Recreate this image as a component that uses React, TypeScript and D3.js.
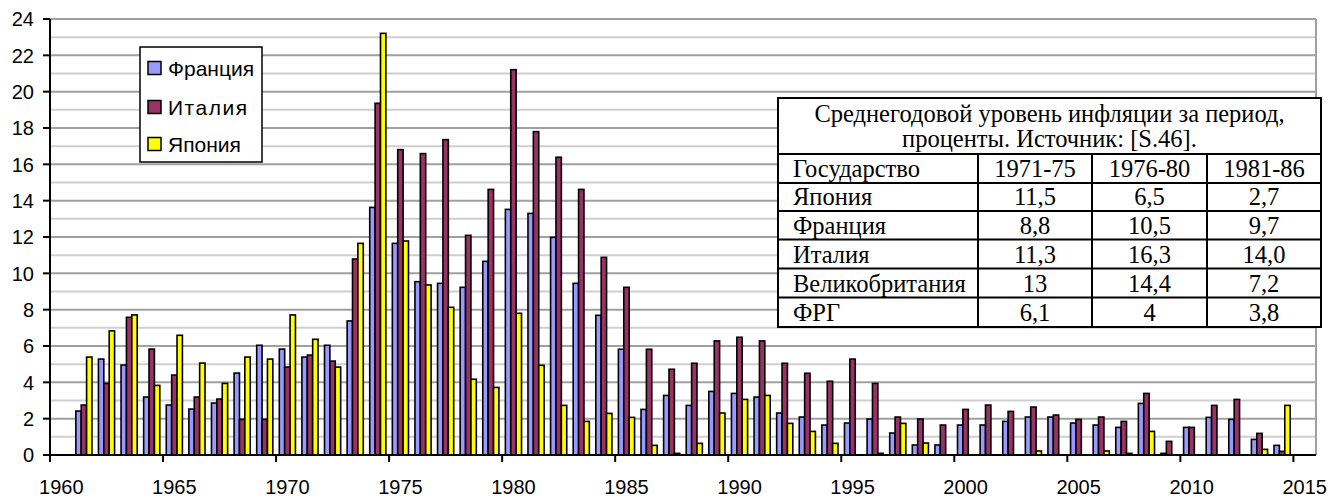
import React from "react";
import * as d3 from "d3";

const years: number[] = d3.range(1960, 2016);
const dataYears: number[] = d3.range(1961, 2015);

// Франция (1961..2014)
const france: number[] = [
  2.42, 5.28, 4.95, 3.19, 2.75, 2.53, 2.86, 4.51, 6.04, 5.83,
  5.39, 6.04, 7.38, 13.63, 11.65, 9.54, 9.45, 9.23, 10.66, 13.52,
  13.3, 11.98, 9.45, 7.69, 5.82, 2.51, 3.28, 2.73, 3.5, 3.39,
  3.19, 2.31, 2.09, 1.65, 1.76, 1.98, 1.21, 0.55, 0.55, 1.65,
  1.65, 1.85, 2.09, 2.09, 1.76, 1.65, 1.52, 2.84, 0.09, 1.52,
  2.07, 1.96, 0.86, 0.53,
];
// Италия
const italy: number[] = [
  2.75, 3.94, 7.58, 5.83, 4.4, 3.19, 3.08, 1.96, 1.96, 4.84,
  5.5, 5.17, 10.79, 19.36, 16.81, 16.59, 17.36, 12.09, 14.62, 21.21,
  17.8, 16.39, 14.62, 10.88, 9.23, 5.82, 4.72, 5.05, 6.28, 6.48,
  6.28, 5.05, 4.5, 4.06, 5.28, 3.94, 2.09, 1.98, 1.65, 2.51,
  2.75, 2.4, 2.64, 2.2, 1.96, 2.09, 1.85, 3.39, 0.75, 1.52,
  2.73, 3.06, 1.19, 0.2,
];
// Япония
const japan: number[] = [
  5.39, 6.83, 7.71, 3.83, 6.59, 5.06, 3.94, 5.39, 5.28, 7.71,
  6.37, 4.84, 11.65, 23.21, 11.78, 9.36, 8.13, 4.17, 3.72, 7.8,
  4.94, 2.73, 1.85, 2.29, 2.07, 0.53, 0.09, 0.64, 2.31, 3.06,
  3.28, 1.74, 1.3, 0.64, 0, 0.09, 1.74, 0.66, 0, 0,
  0, 0, 0.22, 0, 0, 0.22, 0.09, 1.3, 0, 0,
  0, 0, 0.31, 2.73,
];

const seriesNames: string[] = ["Франция", "Италия", "Япония"];
const seriesColors: string[] = ["#9999FF", "#993366", "#FFFF00"];
const seriesValues: number[][] = [france, italy, japan];

const yTicks: number[] = d3.range(0, 25, 2);
const yMinor: number[] = d3.range(0, 25, 1);
const xLabelYears: number[] = d3.range(1960, 2016, 5);

const tableTitle: string[] = [
  "Среднегодовой уровень инфляции за период,",
  "проценты. Источник: [S.46].",
];
const tableHeader: string[] = ["Государство", "1971-75", "1976-80", "1981-86"];
const tableCountries: string[] = ["Япония", "Франция", "Италия", "Великобритания", "ФРГ"];
const tableP1: string[] = ["11,5", "8,8", "11,3", "13", "6,1"];
const tableP2: string[] = ["6,5", "10,5", "16,3", "14,4", "4"];
const tableP3: string[] = ["2,7", "9,7", "14,0", "7,2", "3,8"];

export default function App() {
  const W = 1343, H = 499;
  const left = 50, right = 1316, top = 19, bottom = 455;
  const x = d3.scaleBand<number>().domain(years).range([left, right]).padding(0);
  const y = d3.scaleLinear().domain([0, 24]).range([bottom, top]);
  const bw = x.bandwidth();
  const barW = bw / 4.2;
  const inner = d3.scaleBand<number>().domain([0, 1, 2]).range([0, barW * 3]).padding(0);

  const axisFont = "'Liberation Sans', Arial, sans-serif";
  const serif = "'Liberation Serif', 'Times New Roman', serif";

  // table geometry
  const tL = 778, tR = 1321, tT = 98, tB = 327;
  const colX = [tL, 978, 1092, 1207, tR];
  const rowY = [154, 183, 211, 239.5, 268.5, 297.5, tB];
  const rows: string[][] = [tableHeader].concat(
    tableCountries.map((c, i) => [c, tableP1[i], tableP2[i], tableP3[i]])
  );

  return (
    <svg
      width={W}
      height={H}
      style={{ position: "absolute", left: 0, top: 0, display: "block", background: "#fff" }}
    >
      {/* gridlines */}
      {yMinor.map((v) => (
        <line
          key={"g" + v}
          x1={left}
          x2={right}
          y1={y(v)}
          y2={y(v)}
          stroke={v % 2 === 0 ? "#A0A0A0" : "#CFCFCF"}
          strokeWidth={2}
        />
      ))}
      <line x1={right} x2={right} y1={top} y2={bottom} stroke="#A0A0A0" strokeWidth={2} />

      {/* bars */}
      {seriesValues.map((vals, si) =>
        vals.map((v, i) => {
          const yr = dataYears[i];
          const gx = (x(yr) as number) + bw / 2 - (barW * 3) / 2 + (inner(si) as number);
          return (
            <rect
              key={si + "-" + yr}
              x={gx}
              y={y(v)}
              width={barW}
              height={Math.max(0, bottom - y(v))}
              fill={seriesColors[si]}
              stroke="#000"
              strokeWidth={1.6}
            />
          );
        })
      )}

      {/* axes */}
      <line x1={left} x2={left} y1={top} y2={bottom} stroke="#000" strokeWidth={2} />
      <line x1={left - 7} x2={right} y1={bottom} y2={bottom} stroke="#000" strokeWidth={2} />
      {yTicks.map((v) => (
        <g key={"yt" + v}>
          <line x1={left - 7} x2={left} y1={y(v)} y2={y(v)} stroke="#000" strokeWidth={2} />
          <text
            x={34}
            y={y(v)}
            dy="0.36em"
            textAnchor="end"
            fontFamily={axisFont}
            fontSize={20}
            fill="#000"
          >
            {v}
          </text>
        </g>
      ))}
      {xLabelYears.map((yr) => (
        <g key={"xt" + yr}>
          <line
            x1={x(yr) as number}
            x2={x(yr) as number}
            y1={bottom}
            y2={bottom + 7}
            stroke="#000"
            strokeWidth={2}
          />
          <text
            x={(x(yr) as number) + bw / 2}
            y={494}
            textAnchor="middle"
            fontFamily={axisFont}
            fontSize={20}
            fill="#000"
          >
            {yr}
          </text>
        </g>
      ))}

      {/* legend */}
      <rect x={140} y={47} width={122} height={115} fill="#fff" stroke="#000" strokeWidth={1.5} />
      {seriesNames.map((n, i) => {
        const cy = [68, 107, 144][i];
        return (
          <g key={"lg" + n}>
            <rect x={148} y={cy - 6.5} width={13} height={13} fill={seriesColors[i]} stroke="#000" strokeWidth={1.5} />
            <text
              x={168}
              y={cy}
              dy="0.36em"
              fontFamily={axisFont}
              fontSize={21}
              letterSpacing={n === "Италия" ? 1.5 : 0}
              fill="#000"
            >
              {n}
            </text>
          </g>
        );
      })}

      {/* table */}
      <rect x={tL} y={tT} width={tR - tL} height={tB - tT} fill="#fff" stroke="#000" strokeWidth={2} />
      {rowY.slice(0, -1).map((ry) => (
        <line key={"rl" + ry} x1={tL} x2={tR} y1={ry} y2={ry} stroke="#000" strokeWidth={2} />
      ))}
      {colX.slice(1, -1).map((cx) => (
        <line key={"cl" + cx} x1={cx} x2={cx} y1={rowY[0]} y2={tB} stroke="#000" strokeWidth={2} />
      ))}
      {tableTitle.map((t, i) => (
        <text
          key={"tt" + i}
          x={(tL + tR) / 2}
          y={[121.5, 147][i]}
          textAnchor="middle"
          fontFamily={serif}
          fontSize={24.5}
          fill="#000"
        >
          {t}
        </text>
      ))}
      {rows.map((r, ri) =>
        r.map((cell, ci) => (
          <text
            key={"c" + ri + "-" + ci}
            x={ci === 0 ? colX[0] + 15 : (colX[ci] + colX[ci + 1]) / 2}
            y={rowY[ri + 1] - 6}
            textAnchor={ci === 0 ? "start" : "middle"}
            fontFamily={serif}
            fontSize={24.5}
            fill="#000"
          >
            {cell}
          </text>
        ))
      )}
    </svg>
  );
}
